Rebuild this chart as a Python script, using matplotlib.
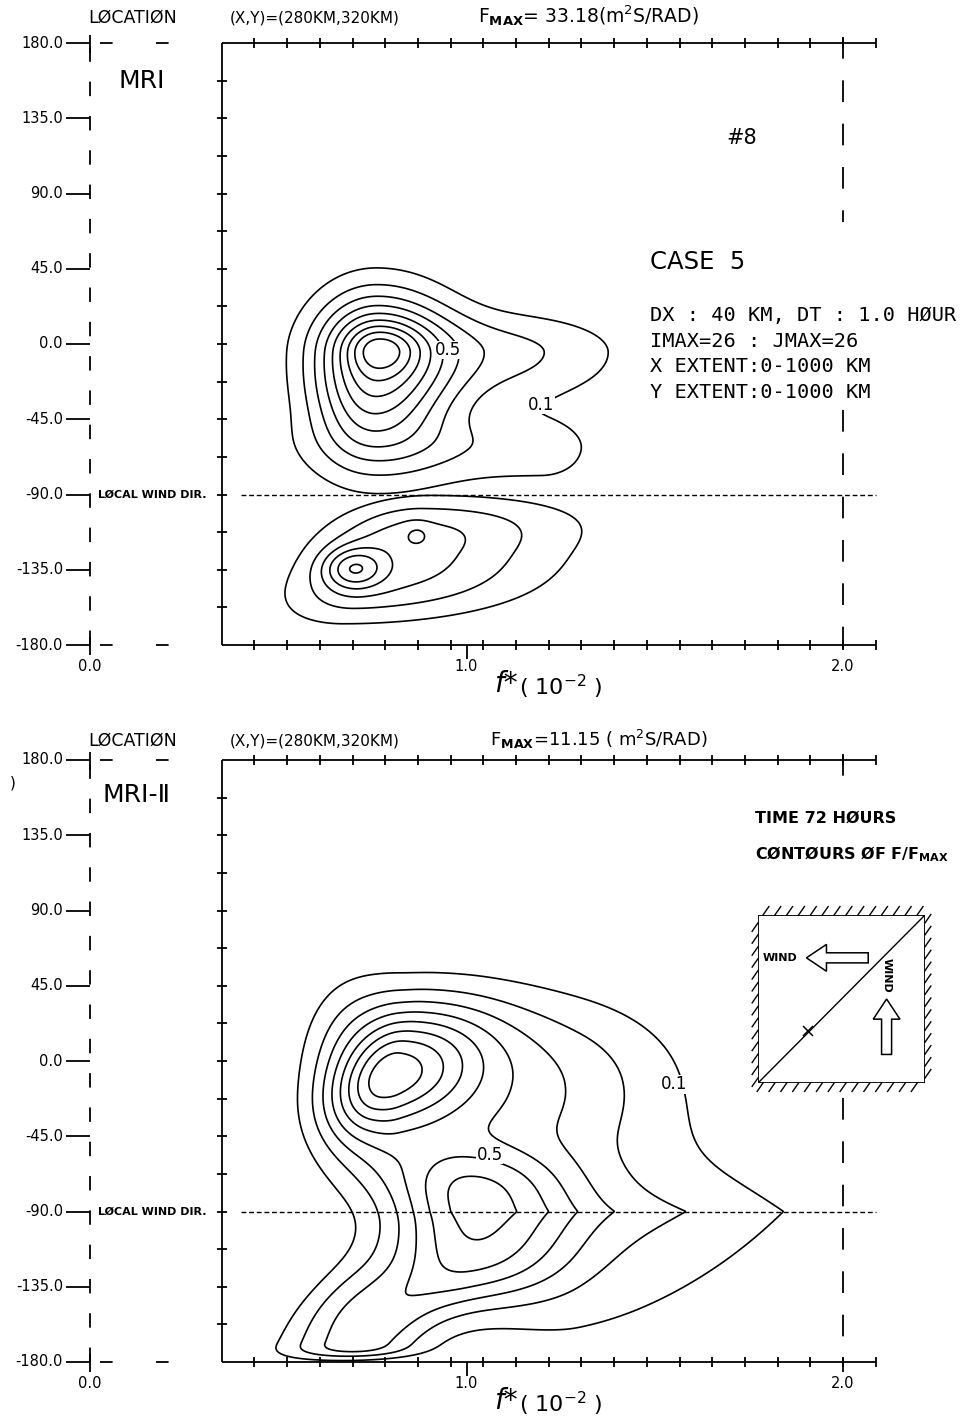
"""Two-panel F/Fmax contour chart (MRI and MRI-II), plotter style."""

import numpy as np
import matplotlib

matplotlib.use("Agg")
import matplotlib.pyplot as plt  # noqa: E402
from matplotlib.patches import FancyArrow  # noqa: E402

W, H = 971, 1421
PX_X0 = 90          # pixel column of f* = 0
PX_PER_UNIT = 376.5  # pixels per f* unit

# ---- axes / labels -------------------------------------------------------
y_ticks = [180, 135, 90, 45, 0, -45, -90, -135, -180]
y_tick_labels = ["180.0", "135.0", "90.0", "45.0", "0.0", "-45.0", "-90.0", "-135.0", "-180.0"]
x_ticks = [0.0, 1.0, 2.0]
x_tick_labels = ["0.0", "1.0", "2.0"]
frame_x0, frame_x1 = 0.35, 2.087
n_frame_ticks = 19          # intervals between frame start and f* = 2.0
levels = [0.1, 0.2, 0.3, 0.4, 0.5, 0.6, 0.7, 0.8, 0.9]

# ---- panel 1 (MRI) field components: upper lobe (above wind dir) ----------
#              core   body   skirt  arm-up arm-low
mri_up_x0 = [0.77, 0.76, 0.72, 1.10, 1.20]
mri_up_y0 = [-3, -5, -40, -5, -63]
mri_up_amp = [0.20, 0.65, 0.15, 0.22, 0.15]
mri_up_sxl = [0.06, 0.115, 0.10, 0.25, 0.40]
mri_up_sxr = [0.07, 0.14, 0.15, 0.22, 0.11]
mri_up_syd = [10, 38, 25, 22, 17]
mri_up_syu = [10, 26, 25, 17, 14]
mri_up_py = [2, 2, 2, 2, 2]
mri_up_tilt = [0.0, 0.0, 0.0, 0.0, 0.0]

# lower lobe (below wind dir)
mri_lo_x0 = [0.696, 0.80, 0.869]
mri_lo_y0 = [-134, -125, -114]
mri_lo_amp = [0.30, 0.36, 0.08]
mri_lo_sxl = [0.055, 0.145, 0.025]
mri_lo_sxr = [0.055, 0.30, 0.025]
mri_lo_syd = [8.5, 27, 5]
mri_lo_syu = [8.5, 22, 5]
mri_lo_py = [2, 3, 2]
mri_lo_tilt = [0.0, 0.003, 0.0]

# ---- panel 2 (MRI-II) field components ------------------------------------
#           core  body  left  plat  lower ridge foot  foot-l
mri2_x0 = [0.80, 0.82, 0.68, 1.30, 1.00, 1.30, 0.72, 0.68]
mri2_y0 = [-8, -15, -20, -10, -93, -90, -168, -135]
mri2_amp = [0.40, 0.40, 0.15, 0.12, 0.53, 0.25, 0.35, 0.08]
mri2_sxl = [0.09, 0.12, 0.08, 0.35, 0.15, 0.20, 0.13, 0.07]
mri2_sxr = [0.14, 0.30, 0.08, 0.20, 0.18, 0.40, 0.122, 0.10]
mri2_syd = [20, 38, 30, 30, 35, 65, 7, 25]
mri2_syu = [24, 40, 40, 30, 26, 45, 28, 20]
mri2_py = [2, 3, 2, 2, 3, 1, 3, 2]
mri2_tilt = [0.002, 0.0, 0.0, 0.0, 0.0, 0.0, 0.003, 0.003]

# contour labels (level text, f*, degrees)
mri_labels = [("0.5", 0.95, -3.6), ("0.1", 1.198, -36.5)]
mri2_labels = [("0.5", 1.062, -56), ("0.1", 1.55, -14)]


def field(X, Y, x0, y0, amp, sxl, sxr, syd, syu, py, tilt):
    Z = np.zeros_like(X)
    for i in range(len(x0)):
        dx = X - tilt[i] * (Y - y0[i]) - x0[i]
        dy = Y - y0[i]
        sx = np.where(dx < 0, sxl[i], sxr[i])
        sy = np.where(dy < 0, syd[i], syu[i])
        ry = np.abs(dy) / sy
        Z += amp[i] * np.exp(-0.5 * (dx / sx) ** 2 - ry ** py[i] / py[i])
    return Z


fig = plt.figure(figsize=(W / 100, H / 100), dpi=100)


def panel_axes(top_px, bottom_px, y180_px, ym180_px):
    ax = fig.add_axes([0, 1 - bottom_px / H, 1, (bottom_px - top_px) / H])
    deg_per_px = 360 / (ym180_px - y180_px)
    ax.set_xlim(-PX_X0 / PX_PER_UNIT, (W - PX_X0) / PX_PER_UNIT)
    ax.set_ylim(-180 - (bottom_px - ym180_px) * deg_per_px,
                180 + (y180_px - top_px) * deg_per_px)
    ax.axis("off")
    return ax, deg_per_px


def ftext(px, py, s, **kw):
    kw.setdefault("va", "center")
    kw.setdefault("color", "black")
    fig.text(px / W, 1 - py / H, s, **kw)


def draw_contours(ax, X, Y, Z, labels):
    ax.contour(X, Y, Z, levels=levels, colors="black", linewidths=1.2)
    for txt, x, y in labels:
        ax.text(x, y, txt, ha="center", va="center", fontsize=12, zorder=5,
                bbox=dict(facecolor="white", edgecolor="none", pad=0.3))


def draw_frame(ax, dpp, y180_px, gap_px):
    dx = 1 / PX_PER_UNIT
    lw = 1.3
    k = dict(color="black", lw=lw, solid_capstyle="butt")
    # solid frame
    ax.plot([frame_x0, frame_x1], [180, 180], **k)
    ax.plot([frame_x0, frame_x1], [-180, -180], **k)
    ax.plot([frame_x0, frame_x0], [-180, 180], **k)
    step = (2.0 - frame_x0) / n_frame_ticks
    for i in range(1, n_frame_ticks + 2):
        x = frame_x0 + i * step
        for yb in (180, -180):
            ax.plot([x, x], [yb - 5 * dpp, yb + 5 * dpp], **k)
    for yv in np.arange(180 - 22.5, -180, -22.5):
        ax.plot([frame_x0 - 5 * dx, frame_x0 + 5 * dx], [yv, yv], **k)
    # dashed left axis at f* = 0
    ax.plot([0, 0], [-180, 180], color="black", lw=lw, dashes=(8, 11))
    for yv, lab in zip(y_ticks, y_tick_labels):
        ax.plot([-24 * dx, 0], [yv, yv], **k)
        ax.text(-27 * dx, yv, lab, ha="right", va="center", fontsize=10.5)
    for yb in (180, -180):
        ax.plot([0, 0], [yb - 10 * dpp, yb + 8 * dpp], **k)
        ax.plot([10 * dx, 90 * dx], [yb, yb], color="black", lw=lw, dashes=(7, 24))
    # dashed right line at f* = 2.0, broken where the annotations sit
    y_gap_top = 180 - (gap_px[0] - y180_px) * dpp
    y_gap_bot = 180 - (gap_px[1] - y180_px) * dpp
    ax.plot([2.0, 2.0], [180 + 6 * dpp, y_gap_top], color="black", lw=lw, dashes=(12, 12))
    ax.plot([2.0, 2.0], [y_gap_bot, -180 - 10 * dpp], color="black", lw=lw, dashes=(12, 12))
    # x tick labels
    ax.plot([1.0, 1.0], [-180, -180 - 14 * dpp], **k)
    for xv, lab in zip(x_ticks, x_tick_labels):
        ax.text(xv, -180 - 22 * dpp, lab, ha="center", va="center", fontsize=10.5)
    ax.text(1.135, -180 - 39 * dpp, "f*", ha="right", va="center", fontsize=20,
            style="italic")
    ax.text(1.14, -180 - 42 * dpp, "( 10$^{-2}$ )", ha="left", va="center", fontsize=16)
    # local wind direction line
    ax.plot([frame_x0 + 0.05, frame_x1], [-90, -90], color="black", lw=1.0, dashes=(3.5, 2))
    ax.text(8 * dx, -90, "LØCAL WIND DIR.", ha="left", va="center", fontsize=8,
            fontweight="bold")


# ========================= panel 1 : MRI ===================================
ax1, dpp1 = panel_axes(0, 712, 43, 645)
draw_frame(ax1, dpp1, 43, (222, 410))

xg = np.linspace(frame_x0, frame_x1, 420)
Xu, Yu = np.meshgrid(xg, np.linspace(-90, 180, 400))
Zu = field(Xu, Yu, mri_up_x0, mri_up_y0, mri_up_amp, mri_up_sxl, mri_up_sxr,
           mri_up_syd, mri_up_syu, mri_up_py, mri_up_tilt)
draw_contours(ax1, Xu, Yu, Zu, mri_labels)

Xl, Yl = np.meshgrid(xg, np.linspace(-180, -90, 200))
Zl = field(Xl, Yl, mri_lo_x0, mri_lo_y0, mri_lo_amp, mri_lo_sxl, mri_lo_sxr,
           mri_lo_syd, mri_lo_syu, mri_lo_py, mri_lo_tilt)
draw_contours(ax1, Xl, Yl, Zl, [])

ftext(88, 18, "LØCATIØN", fontsize=12.5)
ftext(230, 18, "(X,Y)=(280KM,320KM)", fontsize=11)
ftext(478, 16, r"F$_{\mathbf{MAX}}$= 33.18(m$^2$S/RAD)", fontsize=13.5)
ftext(118, 81, "MRI", fontsize=18)
ftext(726, 138, "#8", fontsize=15)
ftext(650, 262, "CASE  5", fontsize=17.5)
info_lines = ["DX : 40 KM, DT : 1.0 HØUR", "IMAX=26 : JMAX=26",
              "X EXTENT:0-1000 KM", "Y EXTENT:0-1000 KM"]
for i, line in enumerate(info_lines):
    ftext(650, 316 + 25.5 * i, line, fontsize=14.6, family="DejaVu Sans Mono")

# ========================= panel 2 : MRI-II ================================
ax2, dpp2 = panel_axes(712, H, 760, 1362)
draw_frame(ax2, dpp2, 760, (792, 1098))

Xb, Yb = np.meshgrid(xg, np.linspace(-180, 180, 600))
Zb = field(Xb, Yb, mri2_x0, mri2_y0, mri2_amp, mri2_sxl, mri2_sxr,
           mri2_syd, mri2_syu, mri2_py, mri2_tilt)
draw_contours(ax2, Xb, Yb, Zb, mri2_labels)

ftext(88, 741, "LØCATIØN", fontsize=12.5)
ftext(230, 741, "(X,Y)=(280KM,320KM)", fontsize=11)
ftext(490, 739, r"F$_{\mathbf{MAX}}$=11.15 ( m$^2$S/RAD)", fontsize=13)
ftext(10, 783, ")", fontsize=11)
ftext(102, 795, "MRI-Ⅱ", fontsize=18, family=["DejaVu Sans", "Noto Sans CJK JP"])
ftext(755, 818, "TIME 72 HØURS", fontsize=11.5, fontweight="bold")
ftext(755, 854, r"CØNTØURS ØF F/F$_{\mathbf{MAX}}$", fontsize=11.5, fontweight="bold")

# ---- inset: wind sketch ----------------------------------------------------
axi = fig.add_axes([758 / W, 1 - 1083 / H, 167 / W, 168 / H])
axi.set_xlim(0, 1)
axi.set_ylim(0, 1)
axi.axis("off")
axi.plot([0, 1, 1, 0, 0], [0, 0, 1, 1, 0], color="black", lw=1.3)
axi.plot([0, 1], [0, 1], color="black", lw=1.0)
hk = dict(color="black", lw=1.0, clip_on=False)
for t in np.arange(0.03, 1.0, 0.071):
    axi.plot([t, t + 0.035], [1, 1.05], **hk)
    axi.plot([t - 0.035, t], [-0.05, 0], **hk)
    axi.plot([-0.035, 0], [t - 0.05, t], **hk)
    axi.plot([1, 1.035], [t, t + 0.05], **hk)
axi.add_patch(FancyArrow(0.66, 0.745, -0.37, 0, width=0.06, head_width=0.16,
                         head_length=0.12, length_includes_head=True,
                         facecolor="white", edgecolor="black", lw=1.1))
axi.add_patch(FancyArrow(0.77, 0.17, 0, 0.33, width=0.06, head_width=0.16,
                         head_length=0.12, length_includes_head=True,
                         facecolor="white", edgecolor="black", lw=1.1))
axi.text(0.03, 0.745, "WIND", ha="left", va="center", fontsize=8, fontweight="bold")
axi.text(0.77, 0.64, "WIND", ha="center", va="center", fontsize=8,
         fontweight="bold", rotation=-90)
axi.plot([0.3], [0.31], marker="x", color="black", ms=7, mew=1.1)

fig.savefig("out.png", dpi=100)
